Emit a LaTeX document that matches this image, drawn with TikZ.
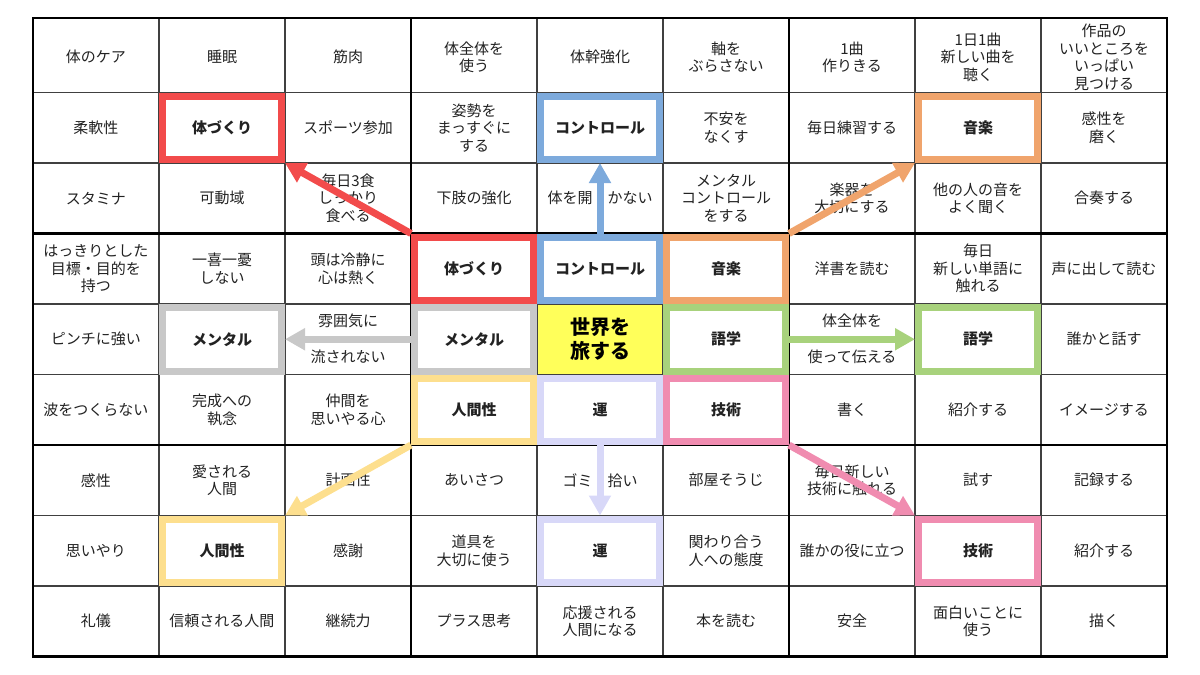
\documentclass[tikz,border=0pt]{standalone}
\usepackage{fontspec}
\setmainfont{Noto Sans CJK JP}
\usepackage{xcolor}
\usepackage{tikz}
\usetikzlibrary{arrows.meta}

\definecolor{textgrey}{HTML}{222222}
\definecolor{goalyellow}{HTML}{FFFF5A}
\definecolor{hlred}{HTML}{F24B4B}
\definecolor{hlblue}{HTML}{7DAADC}
\definecolor{hlorange}{HTML}{F0A46C}
\definecolor{hlgrey}{HTML}{C8C8C8}
\definecolor{hlgreen}{HTML}{A8D27C}
\definecolor{hlyellow}{HTML}{FDDF8E}
\definecolor{hllavender}{HTML}{D8D8F8}
\definecolor{hlpink}{HTML}{F08CB0}

\tikzset{
 cell/.style={align=center,font=\fontsize{15}{17.5}\selectfont,text=textgrey,inner sep=0pt},
 goal/.style={fill=goalyellow,minimum width=126pt,minimum height=70.5pt,inner sep=0pt,
 align=center,font=\fontsize{20}{24}\selectfont\bfseries,text=black},
 box/.style={draw=#1,line width=7pt,minimum width=119pt,minimum height=63.5pt,inner sep=0pt},
 link/.style={draw=#1,line width=7pt,-{Triangle[length=20pt,width=21pt]}},
 thin grid/.style={line width=1.1pt,draw=black!75},
 block grid/.style={line width=2.4pt,draw=black}
}

\begin{document}
\begin{tikzpicture}[x=126pt,y=-70.5pt]
 \useasboundingbox (-0.7619,-0.8121) rectangle (8.7619,8.7624);
 \def\topy{-0.557}

 % centre goal
 \node[goal] (goal) at (4,4) {世界を\\旅する};

 % texts, row by row
 \foreach \t [count=\c from 0] in {体のケア,睡眠,筋肉,{体全体を\\使う},体幹強化,{軸を\\ぶらさない},{1曲\\作りきる},{1日1曲\\新しい曲を\\聴く},{作品の\\いいところを\\いっぱい\\見つける}}
 \node[cell] (t-\c-0) at (\c,0) {\t};
 \foreach \t [count=\c from 0] in {柔軟性,{\bfseries 体づくり},スポーツ参加,{姿勢を\\まっすぐに\\する},{\bfseries コントロール},{不安を\\なくす},毎日練習する,{\bfseries 音楽},{感性を\\磨く}}
 \node[cell] (t-\c-1) at (\c,1) {\t};
 \foreach \t [count=\c from 0] in {スタミナ,可動域,{毎日3食\\しっかり\\食べる},下肢の強化,体を開　かない,{メンタル\\コントロール\\をする},{楽器を\\大切にする},{他の人の音を\\よく聞く},合奏する}
 \node[cell] (t-\c-2) at (\c,2) {\t};
 \foreach \t [count=\c from 0] in {{はっきりとした\\目標・目的を\\持つ},{一喜一憂\\しない},{頭は冷静に\\心は熱く},{\bfseries 体づくり},{\bfseries コントロール},{\bfseries 音楽},洋書を読む,{毎日\\新しい単語に\\触れる},声に出して読む}
 \node[cell] (t-\c-3) at (\c,3) {\t};
 \foreach \t [count=\c from 0] in {ピンチに強い,{\bfseries メンタル},{雰囲気に\\[18.5pt]流されない},{\bfseries メンタル}}
 \node[cell] (t-\c-4) at (\c,4) {\t};
 \foreach \t [count=\c from 5] in {{\bfseries 語学},{体全体を\\[18.5pt]使って伝える},{\bfseries 語学},誰かと話す}
 \node[cell] (t-\c-4) at (\c,4) {\t};
 \foreach \t [count=\c from 0] in {波をつくらない,{完成への\\執念},{仲間を\\思いやる心},{\bfseries 人間性},{\bfseries 運},{\bfseries 技術},書く,紹介する,イメージする}
 \node[cell] (t-\c-5) at (\c,5) {\t};
 \foreach \t [count=\c from 0] in {感性,{愛される\\人間},計画性,あいさつ,ゴミ　拾い,部屋そうじ,{毎日新しい\\技術に触れる},試す,記録する}
 \node[cell] (t-\c-6) at (\c,6) {\t};
 \foreach \t [count=\c from 0] in {思いやり,{\bfseries 人間性},感謝,{道具を\\大切に使う},{\bfseries 運},{関わり合う\\人への態度},誰かの役に立つ,{\bfseries 技術},紹介する}
 \node[cell] (t-\c-7) at (\c,7) {\t};
 \foreach \t [count=\c from 0] in {礼儀,信頼される人間,継続力,プラス思考,{応援される\\人間になる},本を読む,安全,{面白いことに\\使う},描く}
 \node[cell] (t-\c-8) at (\c,8) {\t};

 % grid
 \foreach \i in {0.5,1.5,3.5,4.5,6.5,7.5} {
 \draw[thin grid] (\i,\topy) -- (\i,8.5);
 \draw[thin grid] (-0.5,\i) -- (8.5,\i);
 }
 \foreach \i in {2.5,5.5} {
 \draw[block grid] (\i,\topy) -- (\i,8.5);
 \draw[block grid] (-0.5,\i) -- (8.5,\i);
 }
 \draw[block grid,line width=2.8pt] (-0.5,\topy) rectangle (8.5,8.5);

 % highlighted themes
 \node[box=hlred] (b-3-3) at (3,3) {};
 \node[box=hlblue] (b-4-3) at (4,3) {};
 \node[box=hlorange] (b-5-3) at (5,3) {};
 \node[box=hlgrey] (b-3-4) at (3,4) {};
 \node[box=hlgreen] (b-5-4) at (5,4) {};
 \node[box=hlyellow] (b-3-5) at (3,5) {};
 \node[box=hllavender] (b-4-5) at (4,5) {};
 \node[box=hlpink] (b-5-5) at (5,5) {};

 \node[box=hlred] (b-1-1) at (1,1) {};
 \node[box=hlblue] (b-4-1) at (4,1) {};
 \node[box=hlorange] (b-7-1) at (7,1) {};
 \node[box=hlgrey] (b-1-4) at (1,4) {};
 \node[box=hlgreen] (b-7-4) at (7,4) {};
 \node[box=hlyellow] (b-1-7) at (1,7) {};
 \node[box=hllavender] (b-4-7) at (4,7) {};
 \node[box=hlpink] (b-7-7) at (7,7) {};

 % arrows out to the outer blocks
 \draw[link=hlred] (b-3-3.north west) -- (b-1-1.south east);
 \draw[link=hlblue] (b-4-3.north) -- (b-4-1.south);
 \draw[link=hlorange] (b-5-3.north east) -- (b-7-1.south west);
 \draw[link=hlgrey] (b-3-4.west) -- (b-1-4.east);
 \draw[link=hlgreen] (b-5-4.east) -- (b-7-4.west);
 \draw[link=hlyellow] (b-3-5.south west) -- (b-1-7.north east);
 \draw[link=hllavender] (b-4-5.south) -- (b-4-7.north);
 \draw[link=hlpink] (b-5-5.south east) -- (b-7-7.north west);
\end{tikzpicture}
\end{document}
